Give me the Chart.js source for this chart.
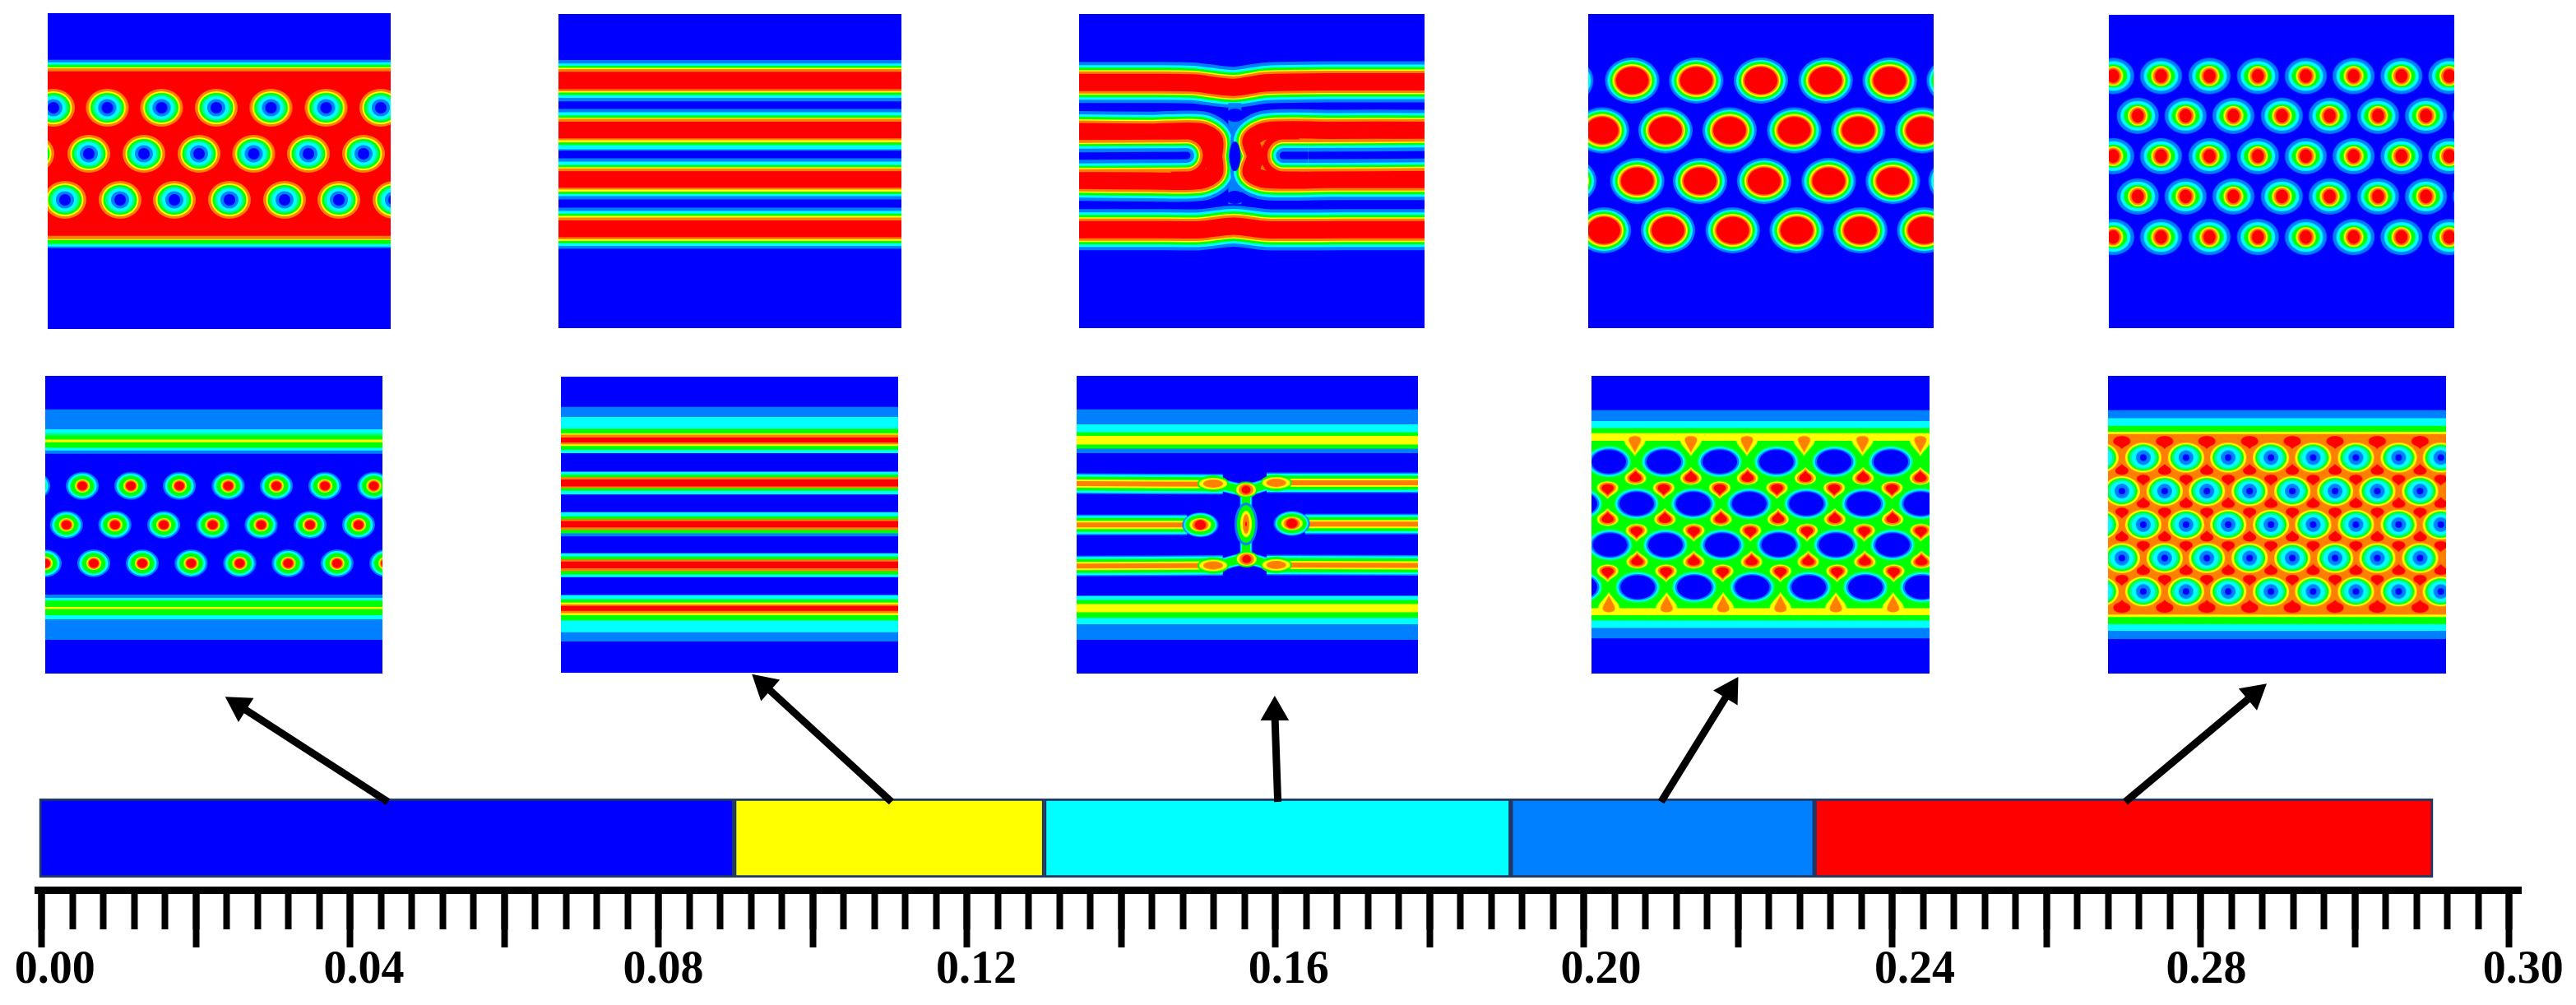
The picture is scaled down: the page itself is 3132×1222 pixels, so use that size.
<!DOCTYPE html>
<html>
<head>
<meta charset="utf-8">
<title>Phase diagram</title>
<script src="https://cdn.jsdelivr.net/npm/chart.js@4/dist/chart.umd.min.js"></script>
<style>
  html, body { margin: 0; padding: 0; background: #fff; overflow: hidden; }
  #page { position: relative; width: 3132px; height: 1222px; }
  canvas { position: absolute; }
  canvas.panel { background: #0000ff; filter: blur(0.7px); }
</style>
</head>
<body>
<div id="page"></div>
<script>
// colour levels of the contour plots, low to high
const jet = ["#0000ff", "#007fff", "#00ffff", "#00ff80", "#00ff00", "#ffff00", "#ff8000", "#ff0000"];

// phase bar
const phaseStart = [-0.0003, 0.0898, 0.13, 0.1905, 0.2299];
const phaseEnd = [0.0898, 0.13, 0.1905, 0.2299, 0.3101];
const phaseColors = ["#0000ff", "#ffff00", "#00ffff", "#007fff", "#ff0000"];

// ruler
const tickLabels = ["0.00", "0.04", "0.08", "0.12", "0.16", "0.20", "0.24", "0.28", "0.30"];
const tickLabelAt = [0.0017, 0.0418, 0.0806, 0.1212, 0.1617, 0.2022, 0.2429, 0.2807, 0.3218];

// arrows from the bar up to the panels
const arrowTailX = [0.0449, 0.1102, 0.1603, 0.21, 0.2702];
const arrowHeadX = [0.0256, 0.0937, 0.1599, 0.2189, 0.2869];
const arrowHeadY = [364, 389, 356, 382, 378];
const arrowTurn = [-57.7, -48.6, 0, 31.5, 50.1];

// top row, panel 1
const p1Edges = [16, 73, 76, 79, 82, 83.5, 87, 287, 291, 292, 297, 300, 302, 400];
const p1Levels = [0, 1, 2, 4, 5, 6, 7, 6, 5, 4, 2, 1, 0];
const p1Holes = [
  [131, [65, 130.5, 196.5, 263, 329.5, 396.5, 463]],
  [187, [40, 108, 175, 242, 308.5, 375, 442]],
  [243, [79, 146, 212, 279, 346, 412, 479]]
];

// top row, panel 2
const p2Edges = [50, 219, 232, 240, 248, 252, 262, 326, 333, 338, 347, 357, 370, 398, 410, 422, 430, 434, 444, 505, 512, 520, 530, 545, 550, 578, 590, 603, 610, 615, 625, 685, 692, 700, 708, 716, 728, 758, 770, 780, 788, 794, 805, 866, 874, 880, 888, 898, 908, 1197];
const p2Levels = [0, 1, 2, 4, 5, 6, 7, 6, 5, 4, 2, 1, 0, 1, 2, 4, 5, 6, 7, 6, 5, 4, 2, 1, 0, 1, 2, 4, 5, 6, 7, 6, 5, 4, 2, 1, 0, 1, 2, 4, 5, 6, 7, 6, 5, 4, 2, 1, 0];

// top row, panel 3
const p3TopRod = [[37, 270], [300, 270], [450, 272], [600, 288], [720, 272], [1000, 268], [1297, 268]];
const p3BottomRod = [[37, 808], [300, 808], [480, 808], [600, 795], [720, 808], [1000, 808], [1297, 808]];
const p3LeftRod = [[37, 450], [300, 452], [480, 450], [530, 480], [528, 540], [530, 600], [480, 628], [300, 630], [37, 628]];
const p3RightRod = [[1297, 445], [950, 445], [720, 447], [665, 480], [680, 540], [665, 600], [720, 625], [950, 625], [1297, 625]];
const p3Neck = [[605, 345], [605, 715]];
const p3Oval = [[605, 540]];
const p3Gaps = [[605, 390], [605, 690]];
const p3FingerTips = [[430, 537], [782, 537]];
const p3LeftFinger = [[340, 538], [430, 537]];
const p3RightFinger = [[782, 537], [872, 537]];
const p3LeftStem = [[37, 539], [340, 538]];
const p3RightStem = [[872, 537], [1297, 535]];

// top row, panel 4
const p4Spots = [
  [293, [5, 110, 212, 315, 418, 520, 622]],
  [475, [62, 163, 265, 368, 470, 572]],
  [660, [10, 118, 218, 320, 423, 525, 625]],
  [840, [65, 167, 270, 372, 473, 575]]
];

// top row, panel 5
const p5Spots = [
  [278, [875, 951, 1028, 1105, 1181, 1257, 1333, 1409]],
  [423, [914, 990, 1066, 1143, 1219, 1296, 1372, 1448]],
  [570, [875, 951, 1028, 1105, 1181, 1257, 1333, 1409]],
  [717, [914, 990, 1066, 1143, 1219, 1296, 1372, 1448]],
  [865, [875, 951, 1028, 1105, 1181, 1257, 1333, 1409]]
];

// bottom row, panel 1
const b1Edges = [52, 175, 248, 262, 270, 285, 295, 315, 325, 337, 850, 862, 872, 895, 903, 925, 940, 1015, 1137];
const b1Levels = [0, 1, 2, 3, 4, 5, 4, 2, 1, 0, 1, 2, 4, 5, 4, 2, 1, 0];
const b1Spots = [
  [453, [27, 167, 307, 447, 588, 727, 867, 1008]],
  [595, [121, 261, 402, 543, 683, 824, 964]],
  [735, [60, 200, 340, 481, 621, 761, 902, 1043]]
];

// bottom row, panel 2
const b2Edges = [24, 135, 172, 215, 232, 237, 247, 265, 272, 278, 292, 304, 372, 382, 392, 400, 426, 432, 442, 455, 520, 535, 545, 552, 575, 585, 597, 608, 670, 682, 692, 700, 725, 735, 748, 757, 822, 838, 850, 856, 862, 880, 888, 896, 915, 958, 992, 1105];
const b2Levels = [0, 1, 2, 4, 5, 6, 7, 6, 5, 4, 2, 0, 2, 4, 6, 7, 6, 4, 2, 0, 2, 4, 6, 7, 6, 4, 1, 0, 2, 4, 6, 7, 6, 4, 2, 0, 2, 4, 5, 6, 7, 6, 5, 4, 2, 1, 0];

// bottom row, panel 3
const b3Edges = [52, 175, 230, 258, 272, 303, 318, 335, 855, 870, 885, 915, 935, 958, 1015, 1137];
const b3Levels = [0, 1, 2, 4, 5, 4, 1, 0, 2, 4, 5, 4, 2, 1, 0];
const b3Links = [
  [[600, 447], [705, 467], [800, 442]],
  [[600, 743], [705, 720], [800, 741]],
  [[705, 467], [705, 720]]
];
const b3Rods = [
  [[87, 445], [620, 447]],
  [[780, 442], [1332, 442]],
  [[87, 595], [490, 595]],
  [[920, 592], [1332, 592]],
  [[87, 745], [620, 743]],
  [[780, 741], [1332, 743]]
];
const b3RodEnds = [[585, 445], [815, 442], [585, 743], [815, 741]];
const b3Knots = [[705, 467], [707, 720]];
const b3Middle = [[705, 592]];
const b3Tips = [[538, 595], [872, 590]];

// bottom row, panel 4
const b4Edges = [52, 178, 218, 243, 262, 290, 900, 925, 945, 972, 1010, 1137];
const b4Levels = [0, 1, 2, 4, 5, 4, 5, 4, 2, 1, 0];
const b4Holes = [
  [365, [80, 175, 272, 370, 470, 568]],
  [518, [30, 128, 226, 323, 422, 521, 620]],
  [668, [82, 178, 276, 374, 473, 571]],
  [822, [30, 130, 228, 328, 426, 524, 622]]
];
const b4DropsUp = [
  [420, [126, 222, 320, 420, 520, 619]],
  [570, [78, 177, 274, 373, 471, 571]],
  [725, [129, 227, 327, 425, 523, 621]]
];
const b4DropsDown = [
  [465, [78, 175, 272, 371, 470, 570]],
  [620, [128, 227, 325, 423, 522, 620]],
  [768, [78, 179, 277, 377, 475, 573]]
];
const b4EdgeDown = [[300, [125, 222, 319, 418, 519, 619]]];
const b4EdgeUp = [[885, [80, 180, 278, 377, 473, 572]]];

// bottom row, panel 5
const b5Edges = [52, 178, 207, 235, 257, 265, 923, 932, 958, 982, 1012, 1137];
const b5Levels = [0, 1, 2, 4, 5, 6, 5, 4, 2, 1, 0];
const b5ColA = [969, 1043, 1116, 1190, 1264, 1338, 1411, 1485];
const b5ColB = [1006, 1080, 1153, 1227, 1300, 1374, 1448, 1521];
const b5ColEdge = [932];
const b5Holes = [
  [350, b5ColB.concat(b5ColEdge)],
  [472, b5ColA],
  [594, b5ColB.concat(b5ColEdge)],
  [716, b5ColA],
  [838, b5ColB.concat(b5ColEdge)]
];
const b5DropsUp = [[395, b5ColA], [516, b5ColB], [638, b5ColA], [760, b5ColB]];
const b5DropsDown = [[430, b5ColB], [550, b5ColA], [672, b5ColB], [795, b5ColA]];
const b5EdgeDown = [[292, b5ColA]];
const b5EdgeUp = [[895, b5ColA]];

const page = document.getElementById("page");

function addCanvas(left, top, width, height, className) {
  const canvas = document.createElement("canvas");
  canvas.width = width;
  canvas.height = height;
  canvas.style.left = left + "px";
  canvas.style.top = top + "px";
  canvas.style.width = width + "px";
  canvas.style.height = height + "px";
  if (className) canvas.className = className;
  page.appendChild(canvas);
  return canvas;
}

// nested ellipses, rings are [level, rx, ry] from the outside in
function ellipseSprite(rings) {
  const w = Math.ceil(rings[0][1]) * 2 + 2;
  const h = Math.ceil(rings[0][2]) * 2 + 2;
  const sprite = document.createElement("canvas");
  sprite.width = w;
  sprite.height = h;
  const ctx = sprite.getContext("2d");
  rings.forEach(([level, rx, ry]) => {
    ctx.fillStyle = jet[level];
    ctx.beginPath();
    ctx.ellipse(w / 2, h / 2, rx, ry, 0, 0, Math.PI * 2);
    ctx.fill();
  });
  return sprite;
}

// nested drops with the tip up, rings are [level, rx, height]
function dropSprite(rings) {
  const w = Math.ceil(rings[0][1]) * 2 + 2;
  const h = Math.ceil(rings[0][2]) + 2;
  const sprite = document.createElement("canvas");
  sprite.width = w;
  sprite.height = h;
  const ctx = sprite.getContext("2d");
  rings.forEach(([level, rx, tall]) => {
    const top = h / 2 - tall / 2;
    const bottom = h / 2 + tall / 2;
    const belly = bottom - rx * 0.8;
    ctx.fillStyle = jet[level];
    ctx.beginPath();
    ctx.moveTo(w / 2, top);
    ctx.bezierCurveTo(w / 2 + rx * 0.3, top + tall * 0.25, w / 2 + rx, belly - rx * 0.5, w / 2 + rx, belly);
    ctx.bezierCurveTo(w / 2 + rx, bottom, w / 2 - rx, bottom, w / 2 - rx, belly);
    ctx.bezierCurveTo(w / 2 - rx, belly - rx * 0.5, w / 2 - rx * 0.3, top + tall * 0.25, w / 2, top);
    ctx.fill();
  });
  return sprite;
}

const toPoints = pairs => pairs.map(([x, y]) => ({ x, y }));
const rowsToPoints = rows => rows.flatMap(([y, xs]) => xs.map(x => ({ x, y })));

function bandSets(edges, levels) {
  return levels.map((level, i) => ({
    type: "bar",
    xAxisID: "band",
    yAxisID: "y",
    data: [[edges[i], edges[i + 1]]],
    backgroundColor: jet[level],
    borderWidth: 0,
    grouped: false,
    barPercentage: 1,
    categoryPercentage: 1
  }));
}

function rodSets(pairs, rings, cap) {
  return rings.map(([level, width]) => ({
    type: "line",
    xAxisID: "x",
    yAxisID: "y",
    data: toPoints(pairs),
    borderColor: jet[level],
    borderWidth: width,
    borderCapStyle: cap || "butt",
    borderJoinStyle: "round",
    pointRadius: 0,
    tension: 0.3,
    fill: false,
    clip: 0
  }));
}

function spotSet(points, sprite, turn) {
  return {
    type: "scatter",
    xAxisID: "x",
    yAxisID: "y",
    data: points,
    pointStyle: sprite,
    pointRadius: 70,
    pointRotation: turn || 0,
    showLine: false,
    clip: 0
  };
}

function drawPanel(box, frameX, frameY, datasets) {
  const canvas = addCanvas(box[0], box[1], box[2], box[3], "panel");
  // later datasets sit on top
  datasets.forEach((d, i) => { d.order = -i; });
  new Chart(canvas, {
    type: "scatter",
    data: { labels: ["band"], datasets },
    options: {
      responsive: false,
      animation: false,
      devicePixelRatio: 1,
      events: [],
      layout: { padding: 0, autoPadding: false },
      plugins: { legend: { display: false }, tooltip: { enabled: false } },
      scales: {
        x: { type: "linear", offset: false, min: frameX[0], max: frameX[1], display: false },
        y: { type: "linear", offset: false, min: frameY[0], max: frameY[1], reverse: true, display: false },
        band: { type: "category", axis: "x", offset: true, display: false }
      }
    }
  });
}

const rodRings = [[1, 50], [2, 42], [4, 36], [5, 30], [6, 27], [7, 21]];
const fingerRings = [[6, 39], [5, 32], [4, 29], [2, 24], [1, 18], [0, 9]];
const thinRings = [[1, 25], [2, 22], [4, 17], [5, 10], [6, 6]];
const linkRings = [[1, 15], [2, 13], [4, 10]];

const p1Hole = ellipseSprite([[6, 26, 23], [5, 22.5, 20], [4, 20.5, 18], [3, 18, 16], [2, 15, 14], [1, 11, 10.5], [0, 7, 7]]);
const p3Finger = ellipseSprite([[7, 28, 28]]);
const p4Spot = ellipseSprite([[1, 33, 28], [2, 30, 25], [4, 27, 23], [5, 24, 20], [6, 22, 18], [7, 20, 16.5]]);
const p5Spot = ellipseSprite([[1, 25.5, 22], [2, 21, 18], [4, 17, 14], [5, 12, 12], [6, 10, 10.5], [7, 7.5, 8.5]]);
const b1Spot = ellipseSprite([[1, 20, 16.7], [2, 17.5, 15], [4, 14.5, 12.5], [5, 9, 8], [6, 7.5, 7], [7, 6, 5.5]]);
const b3Knot = ellipseSprite([[4, 14, 10], [5, 12, 8], [6, 9, 7], [7, 5.5, 5]]);
const b3Oval = ellipseSprite([[1, 14, 26], [4, 11, 23], [5, 7, 16], [6, 4, 12], [7, 1, 3]]);
const b3Tip = ellipseSprite([[1, 22, 15], [2, 20, 14], [4, 18, 12], [5, 13, 8], [6, 10, 7], [7, 7, 6]]);
const b3End = ellipseSprite([[4, 19, 10], [5, 17, 7], [6, 12, 5]]);
const b4Hole = ellipseSprite([[3, 27, 19], [2, 25.5, 17.5], [1, 23.5, 16], [0, 21, 14.5]]);
const b4Drop = dropSprite([[5, 13, 24], [6, 10, 20], [7, 7.5, 15]]);
const b4EdgeDrop = dropSprite([[5, 13, 30], [6, 7.5, 22]]);
const b5Hole = ellipseSprite([[5, 22, 18], [4, 19, 16], [3, 17, 14.5], [2, 14, 12.5], [1, 9, 9], [0, 4, 4]]);
const b5Drop = dropSprite([[7, 8, 15]]);
const b5EdgeDrop = dropSprite([[7, 10.5, 18]]);
const blueOval = ellipseSprite([[0, 7, 18]]);
const blueGap = ellipseSprite([[0, 11, 8]]);

drawPanel([58, 16, 417, 384], [58, 475], [16, 400],
  bandSets(p1Edges, p1Levels).concat(spotSet(rowsToPoints(p1Holes), p1Hole)));

drawPanel([679, 17, 417, 382], [85, 995], [50, 1197], bandSets(p2Edges, p2Levels));

drawPanel([1312, 17, 420, 382], [37, 1297], [20, 1168], [
  ...bandSets([20, 1168], [0]),
  ...rodSets(p3TopRod, rodRings),
  ...rodSets(p3BottomRod, rodRings),
  ...rodSets(p3Neck, [[1, 16]]),
  ...rodSets(p3LeftRod, rodRings),
  ...rodSets(p3RightRod, rodRings),
  spotSet(toPoints(p3FingerTips), p3Finger),
  ...rodSets(p3LeftFinger, fingerRings, "round"),
  ...rodSets(p3RightFinger, fingerRings, "round"),
  ...rodSets(p3LeftStem, fingerRings),
  ...rodSets(p3RightStem, fingerRings),
  spotSet(toPoints(p3Oval), blueOval),
  spotSet(toPoints(p3Gaps), blueGap)
]);

drawPanel([1931, 17, 420, 382], [40, 590], [50, 1197],
  bandSets([50, 1197], [0]).concat(spotSet(rowsToPoints(p4Spots), p4Spot)));

drawPanel([2564, 18, 420, 381], [868, 1417], [55, 1197],
  bandSets([55, 1197], [0]).concat(spotSet(rowsToPoints(p5Spots), p5Spot)));

drawPanel([55, 457, 410, 362], [60, 1033], [52, 1137],
  bandSets(b1Edges, b1Levels).concat(spotSet(rowsToPoints(b1Spots), b1Spot)));

drawPanel([682, 458, 410, 360], [36, 1265], [24, 1105], bandSets(b2Edges, b2Levels));

drawPanel([1309, 457, 415, 362], [87, 1332], [52, 1137], [
  ...bandSets(b3Edges, b3Levels),
  ...b3Links.flatMap(link => rodSets(link, linkRings)),
  ...b3Rods.flatMap(rod => rodSets(rod, thinRings)),
  spotSet(toPoints(b3RodEnds), b3End),
  spotSet(toPoints(b3Knots), b3Knot),
  spotSet(toPoints(b3Middle), b3Oval),
  spotSet(toPoints(b3Tips), b3Tip)
]);

drawPanel([1935, 457, 411, 362], [50, 635], [52, 1137], [
  ...bandSets(b4Edges, b4Levels),
  spotSet(rowsToPoints(b4Holes), b4Hole),
  spotSet(rowsToPoints(b4DropsUp), b4Drop),
  spotSet(rowsToPoints(b4DropsDown), b4Drop, 180),
  spotSet(rowsToPoints(b4EdgeDown), b4EdgeDrop, 180),
  spotSet(rowsToPoints(b4EdgeUp), b4EdgeDrop)
]);

drawPanel([2563, 457, 411, 362], [945, 1530], [52, 1137], [
  ...bandSets(b5Edges, b5Levels),
  spotSet(rowsToPoints(b5Holes), b5Hole),
  spotSet(rowsToPoints(b5DropsUp), b5Drop),
  spotSet(rowsToPoints(b5DropsDown), b5Drop, 180),
  spotSet(rowsToPoints(b5EdgeDown), b5EdgeDrop, 180),
  spotSet(rowsToPoints(b5EdgeUp), b5EdgeDrop)
]);

// bar, arrows and ruler
const barRow = 203;
const axisRow = 139.5;
const xMin = -0.0005;
const xMax = 0.3215;
const majorTicks = Array.from({ length: 17 }, (_, i) => i * 0.02);
const minorTicks = Array.from({ length: 81 }, (_, i) => i * 0.004);

const barSets = phaseColors.map((color, i) => ({
  type: "bar",
  indexAxis: "y",
  xAxisID: "x",
  yAxisID: "y",
  data: [{ x: [phaseStart[i], phaseEnd[i]], y: barRow }],
  backgroundColor: color,
  borderColor: "#1f3864",
  borderWidth: 3,
  borderSkipped: false,
  barThickness: 96,
  grouped: false,
  order: 2
}));

const arrowSets = arrowTailX.map((tail, i) => ({
  type: "line",
  xAxisID: "x",
  yAxisID: "y",
  data: [{ x: tail, y: 247 }, { x: arrowHeadX[i], y: arrowHeadY[i] }],
  borderColor: "#000",
  borderWidth: 9,
  pointRadius: [0, 20],
  pointStyle: "triangle",
  pointRotation: arrowTurn[i],
  pointBackgroundColor: "#000",
  pointBorderWidth: 0,
  tension: 0,
  clip: false,
  order: 1
}));

// the labels may hang past the ends of the ruler
function noLabelMargin(scale) {
  scale.paddingLeft = 0;
  scale.paddingRight = 0;
}

function rulerAxis(ticks, tickLength) {
  return {
    type: "linear",
    axis: "x",
    offset: false,
    min: xMin,
    max: xMax,
    bounds: "data",
    position: { y: axisRow },
    afterBuildTicks: scale => { scale.ticks = ticks.map(value => ({ value })); },
    afterFit: noLabelMargin,
    border: { display: true, color: "#000", width: 9 },
    grid: { display: true, offset: false, drawOnChartArea: false, drawTicks: true, tickLength, tickWidth: 8, tickColor: "#000" },
    ticks: { autoSkip: false, callback: () => "", maxRotation: 0 }
  };
}

new Chart(addCanvas(0, 800, 3132, 422), {
  type: "scatter",
  data: { datasets: [...arrowSets, ...barSets] },
  options: {
    responsive: false,
    animation: false,
    devicePixelRatio: 1,
    events: [],
    layout: { padding: { left: 46, right: 67, top: 0, bottom: 0 }, autoPadding: false },
    plugins: { legend: { display: false }, tooltip: { enabled: false } },
    scales: {
      x: rulerAxis(majorTicks, 65),
      xMinor: rulerAxis(minorTicks, 43),
      xLabels: {
        type: "linear",
        axis: "x",
        offset: false,
        min: xMin,
        max: xMax,
        bounds: "data",
        position: { y: axisRow },
        afterBuildTicks: scale => { scale.ticks = tickLabelAt.map(value => ({ value })); },
        afterFit: noLabelMargin,
        border: { display: false },
        grid: { display: false, drawTicks: false },
        ticks: {
          autoSkip: false,
          maxRotation: 0,
          padding: 64,
          color: "#000",
          font: { family: "'Liberation Serif'", weight: "bold", size: 56 },
          callback: (value, i) => tickLabels[i]
        }
      },
      y: { type: "linear", offset: false, min: 0, max: 422, display: false }
    }
  }
});
</script>
</body>
</html>
